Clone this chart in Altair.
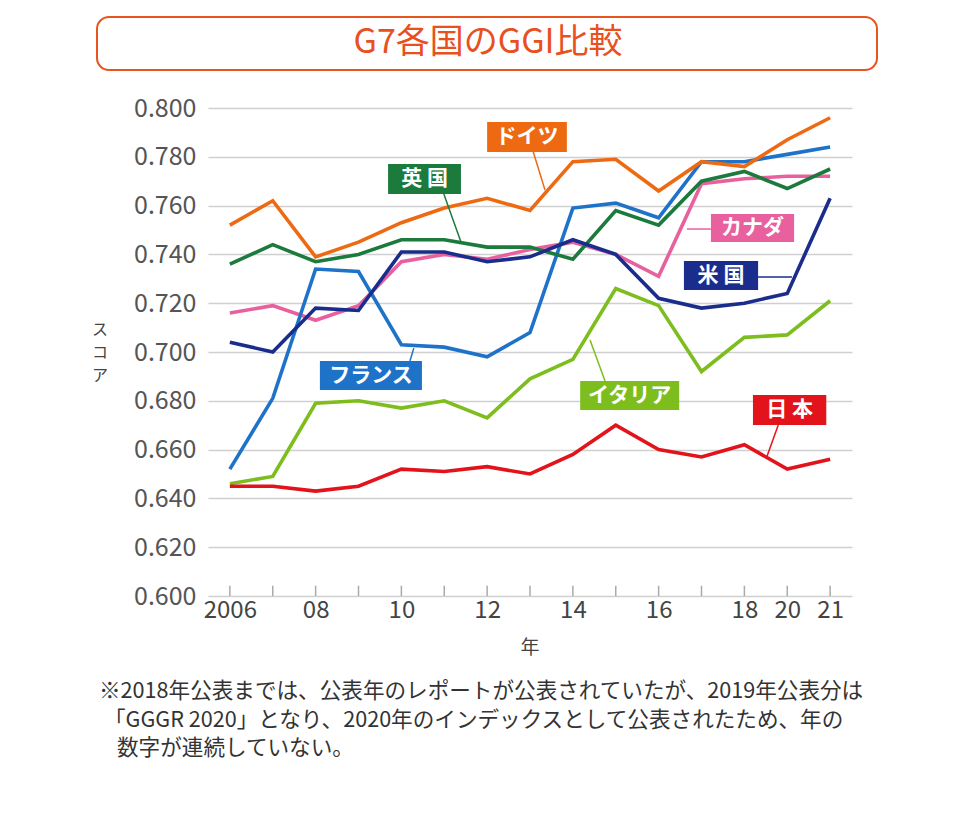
import altair as alt
import pandas as pd

FONT = "Noto Sans CJK JP"

years = [2006, 2007, 2008, 2009, 2010, 2011, 2012, 2013, 2014, 2015, 2016, 2017, 2018, 2020, 2021]
tick_labels = ["2006", "", "08", "", "10", "", "12", "", "14", "", "16", "", "18", "20", "21"]

countries = ["カナダ", "フランス", "英国", "イタリア", "米国", "日本", "ドイツ"]
colors = ["#E8609E", "#1E73C8", "#1B7A3C", "#7DBE1E", "#1A2C8C", "#E3131B", "#EE6A12"]

canada = [0.716, 0.719, 0.713, 0.719, 0.737, 0.740, 0.738, 0.742, 0.745, 0.740, 0.731, 0.769, 0.771, 0.772, 0.772]
france = [0.652, 0.681, 0.734, 0.733, 0.703, 0.702, 0.698, 0.708, 0.759, 0.761, 0.755, 0.778, 0.778, 0.781, 0.784]
uk = [0.736, 0.744, 0.737, 0.740, 0.746, 0.746, 0.743, 0.743, 0.738, 0.758, 0.752, 0.770, 0.774, 0.767, 0.775]
italy = [0.646, 0.649, 0.679, 0.680, 0.677, 0.680, 0.673, 0.689, 0.697, 0.726, 0.719, 0.692, 0.706, 0.707, 0.721]
us = [0.704, 0.700, 0.718, 0.717, 0.741, 0.741, 0.737, 0.739, 0.746, 0.740, 0.722, 0.718, 0.720, 0.724, 0.763]
japan = [0.645, 0.645, 0.643, 0.645, 0.652, 0.651, 0.653, 0.650, 0.658, 0.670, 0.660, 0.657, 0.662, 0.652, 0.656]
germany = [0.752, 0.762, 0.739, 0.745, 0.753, 0.759, 0.763, 0.758, 0.778, 0.779, 0.766, 0.778, 0.776, 0.787, 0.796]
series = [canada, france, uk, italy, us, japan, germany]

rows = []
for c, vals in zip(countries, series):
    for i, v in enumerate(vals):
        rows.append({"country": c, "idx": i, "year": years[i], "score": v})
df = pd.DataFrame(rows)

# label boxes (in data units: x index, score)
box_text = ["ドイツ", "英 国", "カナダ", "米 国", "フランス", "イタリア", "日 本"]
box_country = ["ドイツ", "英国", "カナダ", "米国", "フランス", "イタリア", "日本"]
box_x1 = [6.00, 3.69, 11.22, 10.59, 2.10, 8.17, 12.20]
box_x2 = [7.86, 5.39, 13.16, 12.32, 4.48, 10.48, 13.91]
box_y1 = [0.7943, 0.7770, 0.7566, 0.7373, 0.6963, 0.6881, 0.6824]
box_y2 = [0.7820, 0.7648, 0.7451, 0.7254, 0.6844, 0.6762, 0.6701]
lead_x1 = [7.07, 4.99, 10.66, 12.32, 4.20, 8.75, 12.79]
lead_y1 = [0.7824, 0.7648, 0.7504, 0.7307, 0.6963, 0.6881, 0.6701]
lead_x2 = [7.35, 5.39, 11.22, 13.11, 4.29, 8.40, 12.53]
lead_y2 = [0.7664, 0.7451, 0.7504, 0.7307, 0.7016, 0.7049, 0.6574]

boxes = pd.DataFrame({
    "text": box_text, "country": box_country,
    "x1": box_x1, "x2": box_x2, "y1": box_y1, "y2": box_y2,
    "lx1": lead_x1, "ly1": lead_y1, "lx2": lead_x2, "ly2": lead_y2,
})
boxes["cx"] = (boxes["x1"] + boxes["x2"]) / 2
boxes["cy"] = (boxes["y1"] + boxes["y2"]) / 2

color_domain = ["カナダ", "フランス", "英国", "イタリア", "米国", "日本", "ドイツ"]
color_scale = alt.Scale(domain=color_domain, range=colors)

label_expr = "[" + ",".join("'%s'" % t for t in tick_labels) + "][datum.value]"

xscale = alt.Scale(domain=[-0.51, 14.51], nice=False, zero=False)
yscale = alt.Scale(domain=[0.6, 0.8], nice=False, zero=False)

x_axis = alt.Axis(values=list(range(15)), labelExpr=label_expr, grid=False, domain=False,
                  ticks=False, labelFontSize=24, labelColor="#444", labelFont=FONT,
                  labelPadding=2, title=None)
y_axis = alt.Axis(values=[0.6, 0.62, 0.64, 0.66, 0.68, 0.70, 0.72, 0.74, 0.76, 0.78, 0.80],
                  format=".3f", grid=True, gridColor="#D0D0D0", gridWidth=1.6, domain=False,
                  ticks=False, labelFontSize=25, labelColor="#555", labelFont=FONT,
                  labelPadding=12, title=None)


def X(field):
    return alt.X(field, scale=xscale, axis=x_axis)


def Y(field):
    return alt.Y(field, scale=yscale, axis=y_axis)


tick_df = pd.DataFrame({"idx": list(range(15)), "y0": [0.6] * 15, "y1": [0.6042] * 15})
ticks = alt.Chart(tick_df).mark_rule(color="#AAAAAA", strokeWidth=1.5).encode(
    x=X("idx:Q"), y=Y("y0:Q"), y2="y1:Q")

lines = alt.Chart(df).mark_line(strokeWidth=3.6, strokeJoin="miter").encode(
    x=X("idx:Q"),
    y=Y("score:Q"),
    color=alt.Color("country:N", scale=color_scale, legend=None),
    detail="country:N",
    order="idx:Q",
)

leaders = alt.Chart(boxes).mark_rule(strokeWidth=1.5).encode(
    x=X("lx1:Q"), y=Y("ly1:Q"),
    x2="lx2:Q", y2="ly2:Q",
    color=alt.Color("country:N", scale=color_scale, legend=None),
)
rects = alt.Chart(boxes).mark_rect().encode(
    x=X("x1:Q"), x2="x2:Q",
    y=Y("y1:Q"), y2="y2:Q",
    color=alt.Color("country:N", scale=color_scale, legend=None),
)
rect_text = alt.Chart(boxes).mark_text(color="white", fontSize=21, font=FONT, fontWeight="bold").encode(
    x=X("cx:Q"), y=Y("cy:Q"), text="text:N")

# title box
title_df = pd.DataFrame({"t": ["G7各国のGGI比較"]})
title_box = alt.Chart(title_df).mark_rect(fill="white", stroke="#E8541E", strokeWidth=2,
                                          cornerRadius=12).encode(
    x=alt.value(-111), x2=alt.value(669), y=alt.value(-91), y2=alt.value(-38))
title_text = alt.Chart(title_df).mark_text(color="#E8501E", fontSize=34, font=FONT,
                                           baseline="middle").encode(
    x=alt.value(280), y=alt.value(-65), text="t:N")

ytitle_df = pd.DataFrame({"t": ["ス", "コ", "ア"], "py": [222, 245, 268]})
ytitle = alt.Chart(ytitle_df).mark_text(
    color="#444", fontSize=16, font=FONT, baseline="middle").encode(
    x=alt.value(-108), y=alt.Y("py:Q", scale=None, axis=None), text="t:N")
xtitle = alt.Chart(pd.DataFrame({"t": ["年"]})).mark_text(
    color="#444", fontSize=19, font=FONT, baseline="middle").encode(
    x=alt.value(322), y=alt.value(540), text="t:N")

notes = ["※2018年公表までは、公表年のレポートが公表されていたが、2019年公表分は",
         "「GGGR  2020」となり、2020年のインデックスとして公表されたため、年の",
         "数字が連続していない。"]
note_x = [-109, -104, -91]
note_y = [584, 613, 641]
note_df = pd.DataFrame({"t": notes, "px": note_x, "py": note_y})
note_text = alt.Chart(note_df).mark_text(color="#333", fontSize=21.6, font=FONT, align="left",
                                         baseline="middle").encode(
    x=alt.X("px:Q", scale=None, axis=None), y=alt.Y("py:Q", scale=None, axis=None), text="t:N")

chart = alt.layer(ticks, lines, leaders, rects, rect_text, title_box, title_text,
                  ytitle, xtitle, note_text).properties(
    width=644, height=488,
    background="white",
    autosize=alt.AutoSizeParams(type="none"),
    padding={"left": 200, "top": 100, "right": 120, "bottom": 212},
).configure_view(strokeWidth=0, stroke="transparent")

chart.save("out.html", embed_options={"renderer": "svg", "actions": False})
